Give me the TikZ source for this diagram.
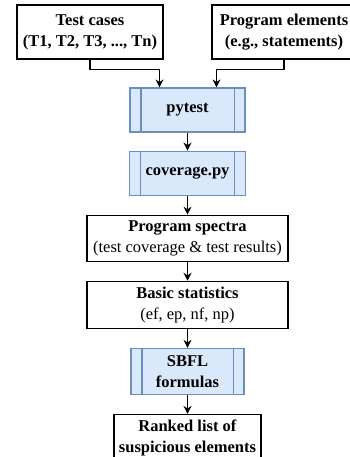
\documentclass[tikz,border=0pt]{standalone}
\usepackage{fontspec}
\setmainfont{Liberation Serif}
\usepackage{xcolor}
\usetikzlibrary{arrows.meta,positioning}
\definecolor{procFill}{HTML}{DAE8FC}
\definecolor{procLine}{HTML}{6C8EBF}

\begin{document}
\begin{tikzpicture}[
        node distance=19pt,
        box/.style={draw, line width=1.1pt, align=center, inner sep=2pt,
                    font=\fontsize{16.5}{21}\selectfont},
        proc/.style={box, draw=procLine, fill=procFill, font=\fontsize{16.5}{21}\selectfont\bfseries},
        arr/.style={-{Stealth[length=8pt,width=8pt]}, line width=1.1pt},
    ]
        \useasboundingbox (0pt,0pt) rectangle (349pt,-457pt);

        \node[box, minimum width=146pt, minimum height=54pt] (tc) at (90pt,-32pt)
            {\textbf{Test cases}\\\textbf{(T1, T2, T3, ..., Tn)}};
        \node[box, minimum width=144pt, minimum height=54pt] (pe) at (284pt,-32pt)
            {\textbf{Program elements}\\\textbf{(e.g., statements)}};

        \node[proc, minimum width=115pt, minimum height=44pt] (pytest) at (187.5pt,-110pt) {pytest};
        \node[proc, minimum width=116pt, minimum height=44pt, below=18pt of pytest] (cov) {coverage.py};
        \node[box, minimum width=201pt, minimum height=46pt, below=of cov] (spec)
            {\textbf{Program spectra}\\(test coverage \& test results)};
        \node[box, minimum width=201pt, minimum height=47pt, below=of spec] (stat)
            {\textbf{Basic statistics}\\(ef, ep, nf, np)};
        \node[proc, minimum width=113pt, minimum height=46pt, below=of stat] (sbfl) {SBFL\\formulas};
        \node[box, minimum width=147pt, minimum height=46pt, below=of sbfl] (rank)
            {\textbf{Ranked list of}\\\textbf{suspicious elements}};

        % inner bars of the process boxes
        \foreach \n in {pytest, cov, sbfl} {
            \draw[procLine, line width=1.1pt] ([xshift=11.5pt]\n.north west) -- ([xshift=11.5pt]\n.south west);
            \draw[procLine, line width=1.1pt] ([xshift=-11.5pt]\n.north east) -- ([xshift=-11.5pt]\n.south east);
        }

        \draw[arr] (tc.south) -- ++(0,-10pt) -| ([xshift=-28pt]pytest.north);
        \draw[arr] (pe.south) -- ++(0,-10pt) -| ([xshift=29pt]pytest.north);
        \draw[arr] (pytest) -- (cov);
        \draw[arr] (cov) -- (spec);
        \draw[arr] (spec) -- (stat);
        \draw[arr] (stat) -- (sbfl);
        \draw[arr] (sbfl) -- (rank);
    \end{tikzpicture}
\end{document}
